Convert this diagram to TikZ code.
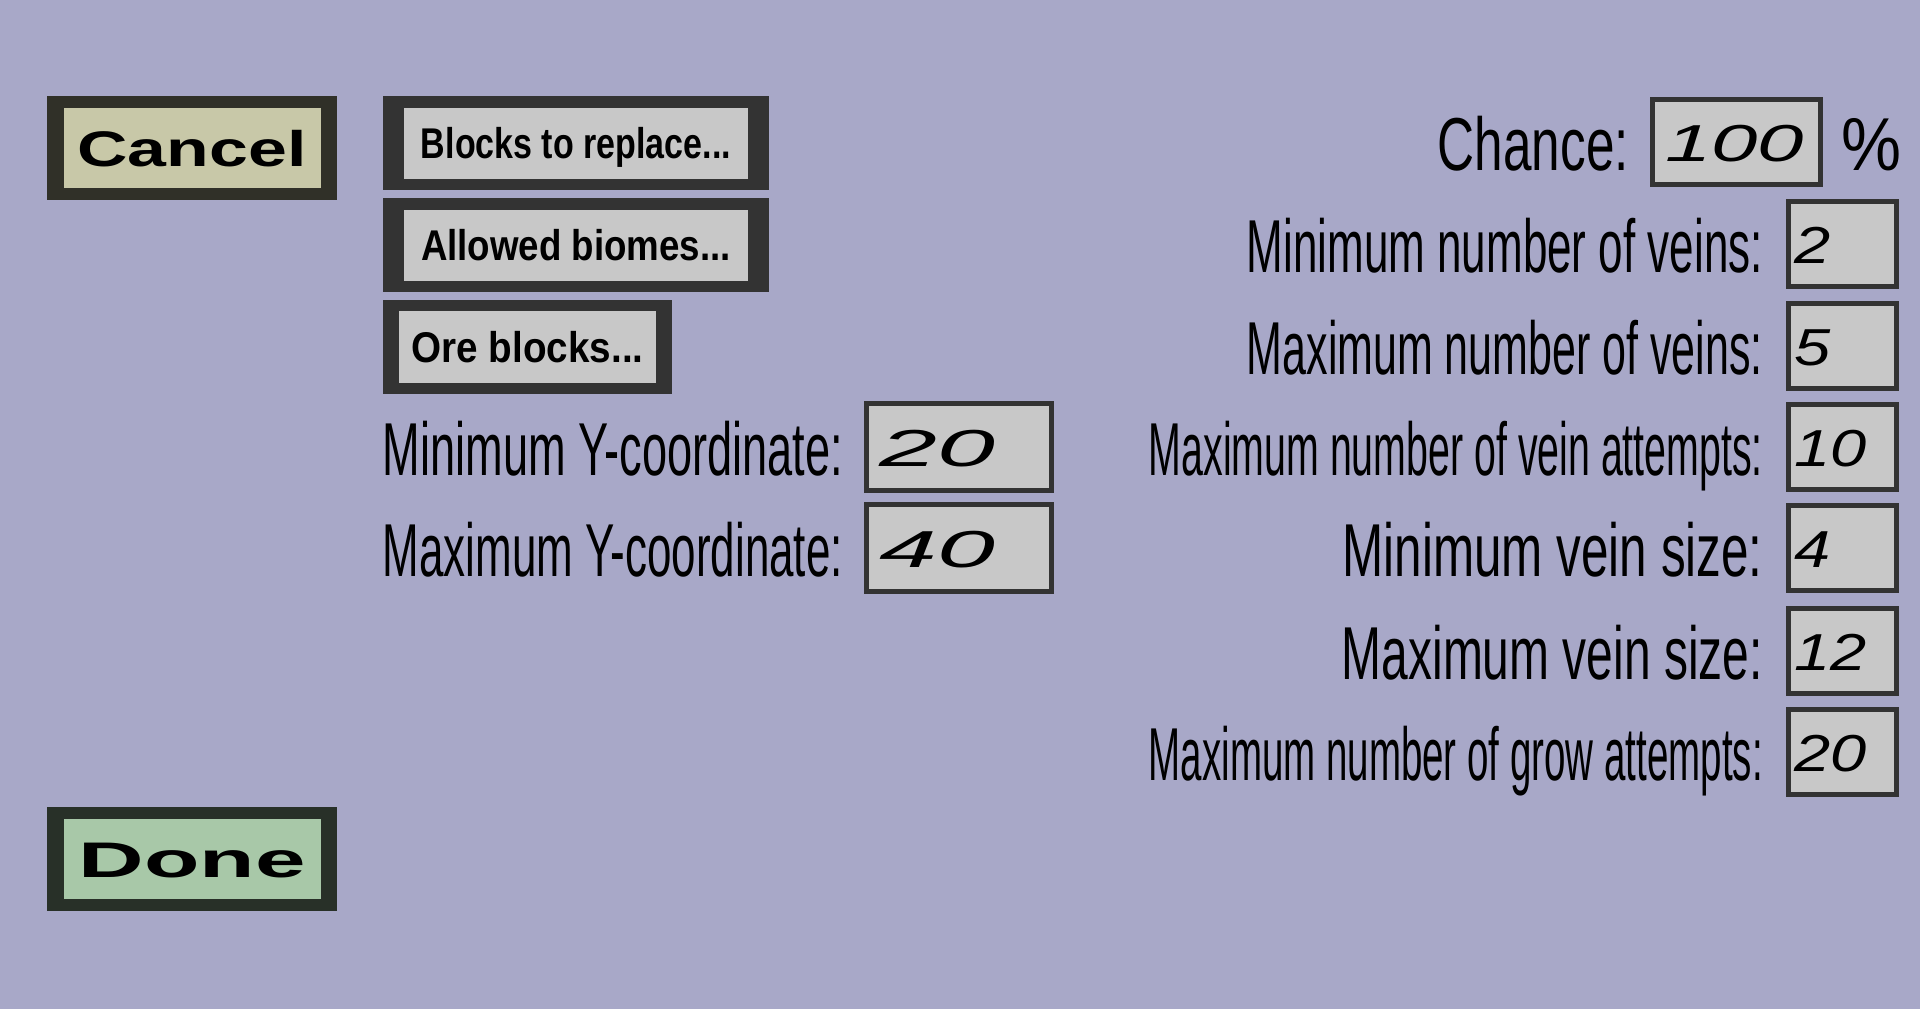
\documentclass[tikz,border=0pt]{standalone}
\usepackage{fontspec}
\setmainfont{Liberation Sans}
\usetikzlibrary{positioning}

\definecolor{bgcol}{HTML}{A8A8C8}
\definecolor{cancelfill}{HTML}{C8C8A8}
\definecolor{cancelline}{HTML}{303028}
\definecolor{donefill}{HTML}{A8C8A8}
\definecolor{doneline}{HTML}{283028}
\definecolor{btnline}{HTML}{333333}
\definecolor{fieldgray}{HTML}{C8C8C8}

\tikzset{
	btnframe/.style={fill=#1, inner sep=0pt, outer sep=0pt},
	btnface/.style={fill=#1, inner sep=0pt, outer sep=0pt, text depth=0pt},
	bigbtn/.style={text height=36pt, font=\fontsize{50}{54}\selectfont\bfseries},
	smallbtn/.style={text height=31pt, font=\fontsize{43}{46}\selectfont\bfseries},
	field/.style={draw=btnline, line width=5pt, fill=fieldgray, inner sep=0pt, minimum height=85pt},
	fieldtext/.style={font=\fontsize{52}{56}\selectfont\itshape, inner sep=0pt, text height=39pt, text depth=0pt},
	lbl/.style={font=\fontsize{75}{80}\selectfont, inner sep=0pt, text height=57pt, text depth=0pt}
}

\begin{document}
\begin{tikzpicture}[x=1pt, y=-1pt]
		\fill[bgcol] (0,0) rectangle (1920,1009);
		
		% Cancel and Done
		\node[btnframe=cancelline, minimum width=290pt, minimum height=104pt] (cancelframe) at (192,148) {};
		\node[btnface=cancelfill, bigbtn, minimum width=257pt, minimum height=80pt] (cancel) at (cancelframe) {\resizebox{229pt}{\height}{Cancel}};
		\node[btnframe=doneline, minimum width=290pt, minimum height=104pt] (doneframe) at (192,859) {};
		\node[btnface=donefill, bigbtn, minimum width=257pt, minimum height=80pt] (done) at (doneframe) {\resizebox{227pt}{\height}{Done}};
		
		% block buttons
		\node[btnframe=btnline, minimum width=386pt, minimum height=94pt] (blocksframe) at (576,143) {};
		\node[btnface=fieldgray, smallbtn, minimum width=344pt, minimum height=71pt] (blocks) at (blocksframe) {\resizebox{310pt}{\height}{Blocks to replace...}};
		\node[btnframe=btnline, minimum width=386pt, minimum height=94pt, below=8pt of blocksframe] (biomesframe) {};
		\node[btnface=fieldgray, smallbtn, minimum width=344pt, minimum height=71pt] (biomes) at (biomesframe) {\resizebox{310pt}{\height}{Allowed biomes...}};
		\node[btnframe=btnline, minimum width=289pt, minimum height=94pt, below=8pt of biomesframe.south west, anchor=north west] (oreframe) {};
		\node[btnface=fieldgray, smallbtn, minimum width=257pt, minimum height=72pt] (ore) at (oreframe) {\resizebox{232pt}{\height}{Ore blocks...}};
		
		% Y range
		\node[field, minimum width=185pt, minimum height=87pt] (miny) at (959,447) {};
		\node[fieldtext, right=15pt of miny.west] (minyval) {\scalebox{2}[1]{20}};
		\node[lbl, left=21pt of miny] (minylabel) {\resizebox{460pt}{\height}{Minimum Y-coordinate:}};
		\node[field, minimum width=185pt, minimum height=87pt] (maxy) at (959,548) {};
		\node[fieldtext, right=15pt of maxy.west] (maxyval) {\scalebox{2}[1]{40}};
		\node[lbl, left=21pt of maxy] (maxylabel) {\resizebox{460pt}{\height}{Maximum Y-coordinate:}};
		
		% chance
		\node[field, minimum width=168pt] (chance) at (1736.5,142) {};
		\node[fieldtext, right=15pt of chance.west] (chanceval) {\scalebox{1.6}[1]{100}};
		\node[lbl, left=21pt of chance] (chancelabel) {\resizebox{191pt}{\height}{Chance:}};
		\node[lbl, right=18pt of chance] (percent) {\scalebox{0.9}[1]{\%}};
		
		\foreach \i/\y/\lw/\lab/\val in {1/244/516/Minimum number of veins:/2, 2/346/516/Maximum number of veins:/5, 3/447/614/Maximum number of vein attempts:/10, 4/548/420/Minimum vein size:/4, 5/650.5/421/Maximum vein size:/12, 6/752/614/Maximum number of grow attempts:/20}
		{
			\node[field, minimum width=108pt] (field\i) at (1842.5,\y) {};
			\node[fieldtext, right=8pt of field\i.west] (value\i) {\scalebox{1.25}[1]{\val}};
			\node[lbl, left=23pt of field\i] (label\i) {\resizebox{\lw pt}{\height}{\lab}};
		}
	\end{tikzpicture}
\end{document}
